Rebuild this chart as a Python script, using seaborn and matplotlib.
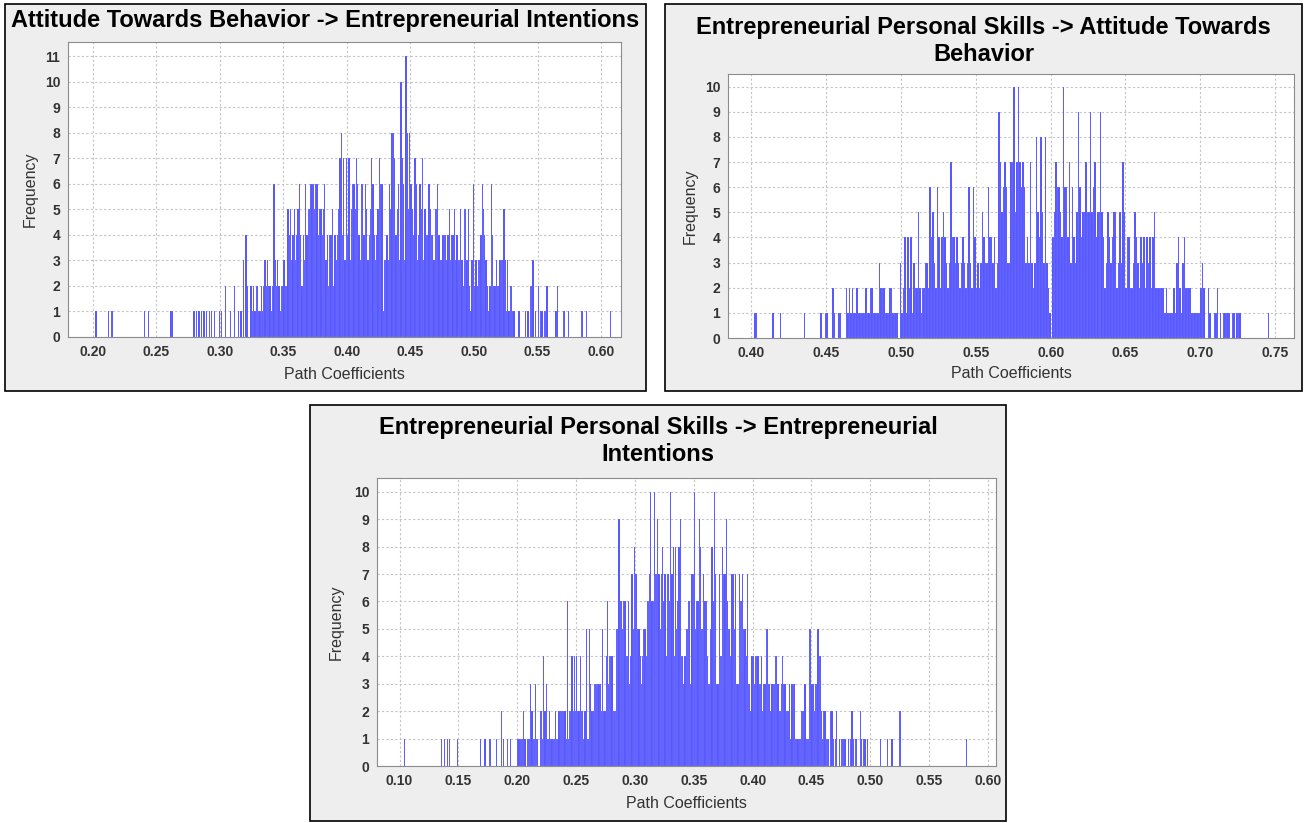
import numpy as np
import matplotlib
matplotlib.use("Agg")
import matplotlib.pyplot as plt
from matplotlib.patches import Rectangle
from matplotlib.ticker import FormatStrFormatter, MultipleLocator
import seaborn as sns

# Bootstrap path-coefficient histograms, one frequency value per 0.001-wide bin.
BIN_WIDTH = 0.001

# Attitude Towards Behavior -> Entrepreneurial Intentions (bins from 0.200)
atb_ei_start = 0.200
atb_ei_freq = [
    0, 0, 1, 0, 0, 0, 0, 0, 0, 0,
    0, 0, 1, 0, 1, 1, 0, 0, 0, 0,
    0, 0, 0, 0, 0, 0, 0, 0, 0, 0,
    0, 0, 0, 0, 0, 0, 0, 0, 0, 0,
    1, 0, 0, 1, 0, 0, 0, 0, 0, 0,
    0, 0, 0, 0, 0, 0, 0, 0, 0, 0,
    0, 1, 1, 0, 0, 0, 0, 0, 0, 0,
    0, 0, 0, 0, 0, 0, 0, 0, 0, 1,
    0, 1, 0, 1, 0, 1, 0, 1, 0, 1,
    0, 1, 0, 1, 0, 1, 0, 0, 0, 1,
    0, 1, 0, 0, 2, 0, 0, 0, 1, 0,
    0, 2, 0, 0, 1, 0, 1, 0, 3, 0,
    4, 2, 0, 0, 2, 1, 2, 1, 2, 2,
    1, 1, 2, 1, 2, 3, 2, 3, 2, 2,
    1, 2, 6, 3, 2, 3, 2, 1, 2, 2,
    3, 2, 2, 5, 4, 5, 3, 4, 5, 3,
    4, 5, 6, 4, 2, 4, 3, 6, 4, 5,
    5, 6, 6, 6, 5, 6, 6, 4, 5, 5,
    4, 5, 6, 3, 4, 2, 4, 4, 5, 2,
    4, 3, 4, 5, 7, 8, 4, 7, 3, 7,
    4, 7, 3, 5, 6, 6, 5, 7, 6, 4,
    3, 6, 6, 4, 6, 5, 3, 4, 5, 7,
    6, 4, 3, 4, 5, 7, 6, 6, 1, 3,
    3, 4, 3, 6, 5, 8, 8, 7, 4, 5,
    6, 3, 10, 7, 6, 3, 11, 8, 5, 8,
    6, 5, 4, 7, 6, 3, 4, 6, 5, 7,
    3, 5, 4, 4, 6, 5, 4, 4, 3, 5,
    5, 6, 4, 3, 3, 4, 4, 4, 3, 4,
    5, 3, 4, 4, 5, 3, 4, 3, 3, 5,
    3, 2, 5, 5, 3, 5, 2, 1, 3, 6,
    2, 3, 2, 3, 3, 4, 6, 5, 4, 3,
    2, 1, 2, 6, 4, 2, 2, 3, 2, 2,
    3, 3, 3, 5, 3, 1, 3, 1, 2, 2,
    1, 1, 0, 0, 0, 1, 0, 0, 0, 0,
    1, 0, 1, 0, 2, 2, 3, 0, 1, 0,
    2, 0, 1, 1, 0, 1, 1, 2, 0, 0,
    0, 0, 0, 0, 1, 2, 0, 0, 0, 0,
    1, 1, 0, 0, 1, 0, 0, 0, 0, 0,
    0, 0, 0, 0, 1, 1, 0, 0, 1, 0,
    0, 0, 0, 0, 0, 0, 0, 0, 0, 0,
    0, 0, 0, 0, 0, 0, 0, 1, 0, 0,
]

# Entrepreneurial Personal Skills -> Attitude Towards Behavior (bins from 0.400)
eps_atb_start = 0.400
eps_atb_freq = [
    0, 0, 1, 1, 0, 0, 0, 0, 0, 0,
    0, 0, 0, 0, 1, 0, 0, 0, 0, 1,
    0, 0, 0, 0, 0, 0, 0, 0, 0, 0,
    0, 0, 0, 0, 0, 1, 0, 0, 0, 0,
    0, 0, 0, 0, 0, 0, 1, 0, 0, 1,
    1, 0, 0, 0, 2, 1, 0, 0, 1, 1,
    0, 0, 0, 2, 1, 2, 1, 2, 1, 1,
    2, 1, 1, 1, 1, 1, 2, 1, 1, 2,
    2, 1, 1, 1, 1, 3, 2, 2, 2, 1,
    1, 1, 2, 2, 1, 1, 1, 1, 0, 3,
    1, 2, 4, 1, 4, 2, 4, 1, 3, 2,
    2, 5, 2, 1, 2, 2, 3, 3, 2, 6,
    4, 5, 3, 2, 6, 4, 2, 4, 5, 4,
    3, 2, 3, 7, 4, 4, 3, 4, 3, 2,
    3, 4, 3, 2, 3, 6, 3, 2, 6, 4,
    2, 3, 2, 3, 5, 4, 3, 3, 6, 4,
    4, 3, 4, 2, 3, 9, 7, 5, 6, 7,
    6, 3, 3, 7, 7, 10, 5, 7, 10, 7,
    6, 7, 6, 3, 4, 3, 7, 3, 2, 3,
    8, 5, 4, 8, 5, 3, 8, 3, 2, 1,
    0, 4, 5, 7, 6, 6, 5, 4, 10, 6,
    6, 4, 7, 3, 6, 4, 3, 5, 9, 6,
    4, 5, 5, 7, 5, 5, 9, 5, 6, 7,
    4, 5, 5, 9, 5, 4, 2, 3, 5, 4,
    3, 4, 5, 5, 2, 3, 5, 3, 7, 5,
    2, 4, 4, 2, 2, 3, 5, 4, 3, 2,
    4, 3, 4, 2, 4, 3, 4, 2, 4, 5,
    2, 2, 2, 2, 2, 2, 1, 2, 1, 1,
    1, 1, 2, 1, 3, 4, 2, 1, 3, 4,
    2, 2, 2, 2, 1, 1, 1, 1, 1, 1,
    2, 3, 2, 0, 0, 2, 1, 0, 0, 1,
    1, 2, 0, 1, 0, 1, 1, 1, 1, 1,
    0, 1, 1, 0, 1, 1, 1, 0, 0, 0,
    0, 0, 0, 0, 0, 0, 0, 0, 0, 0,
    0, 0, 0, 0, 0, 1, 0, 0, 0, 0,
]

# Entrepreneurial Personal Skills -> Entrepreneurial Intentions (bins from 0.100)
eps_ei_start = 0.100
eps_ei_freq = [
    0, 0, 0, 0, 1, 0, 0, 0, 0, 0,
    0, 0, 0, 0, 0, 0, 0, 0, 0, 0,
    0, 0, 0, 0, 0, 0, 0, 0, 0, 0,
    0, 0, 0, 0, 0, 1, 0, 0, 1, 0,
    1, 0, 1, 0, 0, 0, 0, 0, 0, 1,
    0, 0, 0, 0, 0, 0, 0, 0, 0, 0,
    0, 0, 0, 0, 0, 0, 0, 0, 1, 0,
    0, 0, 1, 0, 0, 0, 1, 1, 0, 0,
    0, 0, 1, 0, 0, 0, 2, 0, 1, 0,
    0, 1, 0, 0, 1, 0, 0, 0, 0, 0,
    1, 1, 1, 1, 1, 2, 1, 0, 1, 1,
    1, 3, 2, 1, 1, 3, 1, 1, 0, 2,
    2, 1, 4, 2, 3, 1, 1, 2, 1, 1,
    1, 1, 2, 1, 1, 2, 2, 2, 2, 2,
    2, 1, 6, 1, 2, 2, 4, 2, 4, 2,
    4, 2, 2, 4, 2, 2, 1, 2, 5, 1,
    1, 5, 3, 2, 2, 3, 3, 3, 3, 3,
    3, 2, 5, 2, 2, 4, 6, 3, 4, 4,
    4, 2, 2, 2, 5, 5, 9, 6, 6, 5,
    6, 6, 4, 4, 6, 3, 4, 7, 5, 8,
    7, 7, 5, 5, 4, 3, 4, 5, 5, 4,
    6, 6, 7, 10, 6, 6, 10, 7, 7, 9,
    7, 5, 7, 8, 6, 7, 4, 7, 7, 6,
    10, 7, 8, 4, 8, 5, 6, 8, 9, 4,
    4, 3, 4, 5, 5, 6, 6, 3, 7, 7,
    10, 5, 6, 6, 9, 8, 5, 5, 7, 6,
    6, 4, 3, 3, 5, 8, 6, 10, 7, 3,
    3, 7, 4, 4, 8, 7, 7, 9, 6, 5,
    5, 4, 7, 7, 5, 7, 3, 3, 7, 6,
    6, 7, 5, 5, 4, 7, 3, 3, 2, 4,
    4, 3, 4, 4, 4, 3, 3, 4, 2, 3,
    3, 5, 5, 3, 3, 2, 3, 3, 3, 4,
    4, 3, 2, 2, 3, 4, 3, 3, 2, 2,
    2, 3, 1, 3, 3, 3, 1, 1, 1, 1,
    1, 2, 2, 2, 3, 1, 1, 1, 5, 5,
    3, 3, 2, 3, 3, 5, 4, 4, 2, 1,
    2, 2, 1, 1, 1, 0, 2, 2, 1, 0,
    1, 2, 0, 1, 0, 1, 1, 1, 1, 0,
    0, 1, 0, 1, 2, 1, 0, 1, 1, 0,
    0, 2, 1, 0, 1, 1, 0, 1, 0, 0,
    0, 0, 0, 0, 0, 0, 0, 0, 1, 0,
    0, 0, 0, 0, 1, 0, 0, 0, 1, 0,
    0, 0, 0, 0, 2, 2, 0, 0, 0, 0,
    0, 0, 0, 0, 0, 0, 0, 0, 0, 0,
    0, 0, 0, 0, 0, 0, 0, 0, 0, 0,
    0, 0, 0, 0, 0, 0, 0, 0, 0, 0,
    0, 0, 0, 0, 0, 0, 0, 0, 0, 0,
    0, 0, 0, 0, 0, 0, 0, 0, 0, 0,
    0, 1, 0, 0, 0, 0, 0, 0, 0, 0,
]

titles = [
    "Attitude Towards Behavior -> Entrepreneurial Intentions",
    "Entrepreneurial Personal Skills -> Attitude Towards\nBehavior",
    "Entrepreneurial Personal Skills -> Entrepreneurial\nIntentions",
]
x_label = "Path Coefficients"
y_label = "Frequency"

sns.set_theme(style="white")
plt.rcParams["font.family"] = ["Liberation Sans", "DejaVu Sans"]

W, H = 1306, 823
fig = plt.figure(figsize=(W / 100, H / 100), dpi=100)
fig.patch.set_facecolor("white")

BAR_COLOR = "#5252ff"
GRID_COLOR = "#c4c4c4"
FRAME_COLOR = "#8c8c8c"

# Layout in pixels: outer box, plot area, title centre y, label offsets
panels = [
    dict(start=atb_ei_start, freq=atb_ei_freq, title=titles[0],
         box=(5, 4, 646, 391), plot=(68, 42, 621, 337), title_y=20,
         xlim=(0.1804, 0.6157), ymax=11.55, ylab_x=30, xlab_y=375),
    dict(start=eps_atb_start, freq=eps_atb_freq, title=titles[1],
         box=(665, 4, 1302, 391), plot=(728, 74, 1294, 338), title_y=41,
         xlim=(0.3843, 0.7627), ymax=10.5, ylab_x=690, xlab_y=373),
    dict(start=eps_ei_start, freq=eps_ei_freq, title=titles[2],
         box=(310, 405, 1006, 821), plot=(377, 478, 996, 766), title_y=441,
         xlim=(0.0808, 0.6068), ymax=10.5, ylab_x=336, xlab_y=803),
]

for p in panels:
    bl, bt, br, bb = p["box"]
    fig.add_artist(Rectangle((bl / W, 1 - bb / H), (br - bl) / W, (bb - bt) / H,
                             transform=fig.transFigure, facecolor="#eeeeee",
                             edgecolor="black", linewidth=1.2, zorder=0))
    fig.text((bl + br) / 2 / W, 1 - p["title_y"] / H, p["title"], ha="center",
             va="center", fontsize=17, fontweight="bold", color="black",
             linespacing=1.25)

    pl, pt, pr, pb = p["plot"]
    ax = fig.add_axes([pl / W, 1 - pb / H, (pr - pl) / W, (pb - pt) / H])
    ax.set_facecolor("white")

    freq = np.asarray(p["freq"], dtype=float)
    n = len(freq)
    centers = p["start"] + BIN_WIDTH * (np.arange(n) + 0.5)
    sns.histplot(x=centers, weights=freq, binwidth=BIN_WIDTH,
                 binrange=(p["start"], p["start"] + n * BIN_WIDTH), ax=ax,
                 color=BAR_COLOR, alpha=1.0, edgecolor=(1, 1, 1, 0.22),
                 linewidth=0.25, zorder=2)

    ax.set_xlim(*p["xlim"])
    ax.set_ylim(0, p["ymax"])
    ax.xaxis.set_major_locator(MultipleLocator(0.05))
    ax.xaxis.set_major_formatter(FormatStrFormatter("%.2f"))
    ax.yaxis.set_major_locator(MultipleLocator(1))
    ax.set_axisbelow(True)
    ax.grid(True, color=GRID_COLOR, linestyle=(0, (2, 2)), linewidth=0.8)
    for s in ax.spines.values():
        s.set_color(FRAME_COLOR)
        s.set_linewidth(0.8)
    ax.tick_params(axis="both", direction="out", length=2.5, width=0.8,
                   color=FRAME_COLOR, labelsize=10, labelcolor="#333333", pad=3)
    for lab in ax.get_xticklabels() + ax.get_yticklabels():
        lab.set_fontweight("bold")

    ax.set_xlabel(x_label, fontsize=11.5, color="#333333")
    ax.set_ylabel(y_label, fontsize=11.5, color="#333333")
    ax.xaxis.set_label_coords(0.5, -(p["xlab_y"] - pb) / (pb - pt))
    ax.xaxis.label.set_va("center")
    ax.yaxis.set_label_coords(-(pl - p["ylab_x"]) / (pr - pl), 0.5)
    ax.yaxis.label.set_va("center")

fig.savefig("out.png", dpi=100)
